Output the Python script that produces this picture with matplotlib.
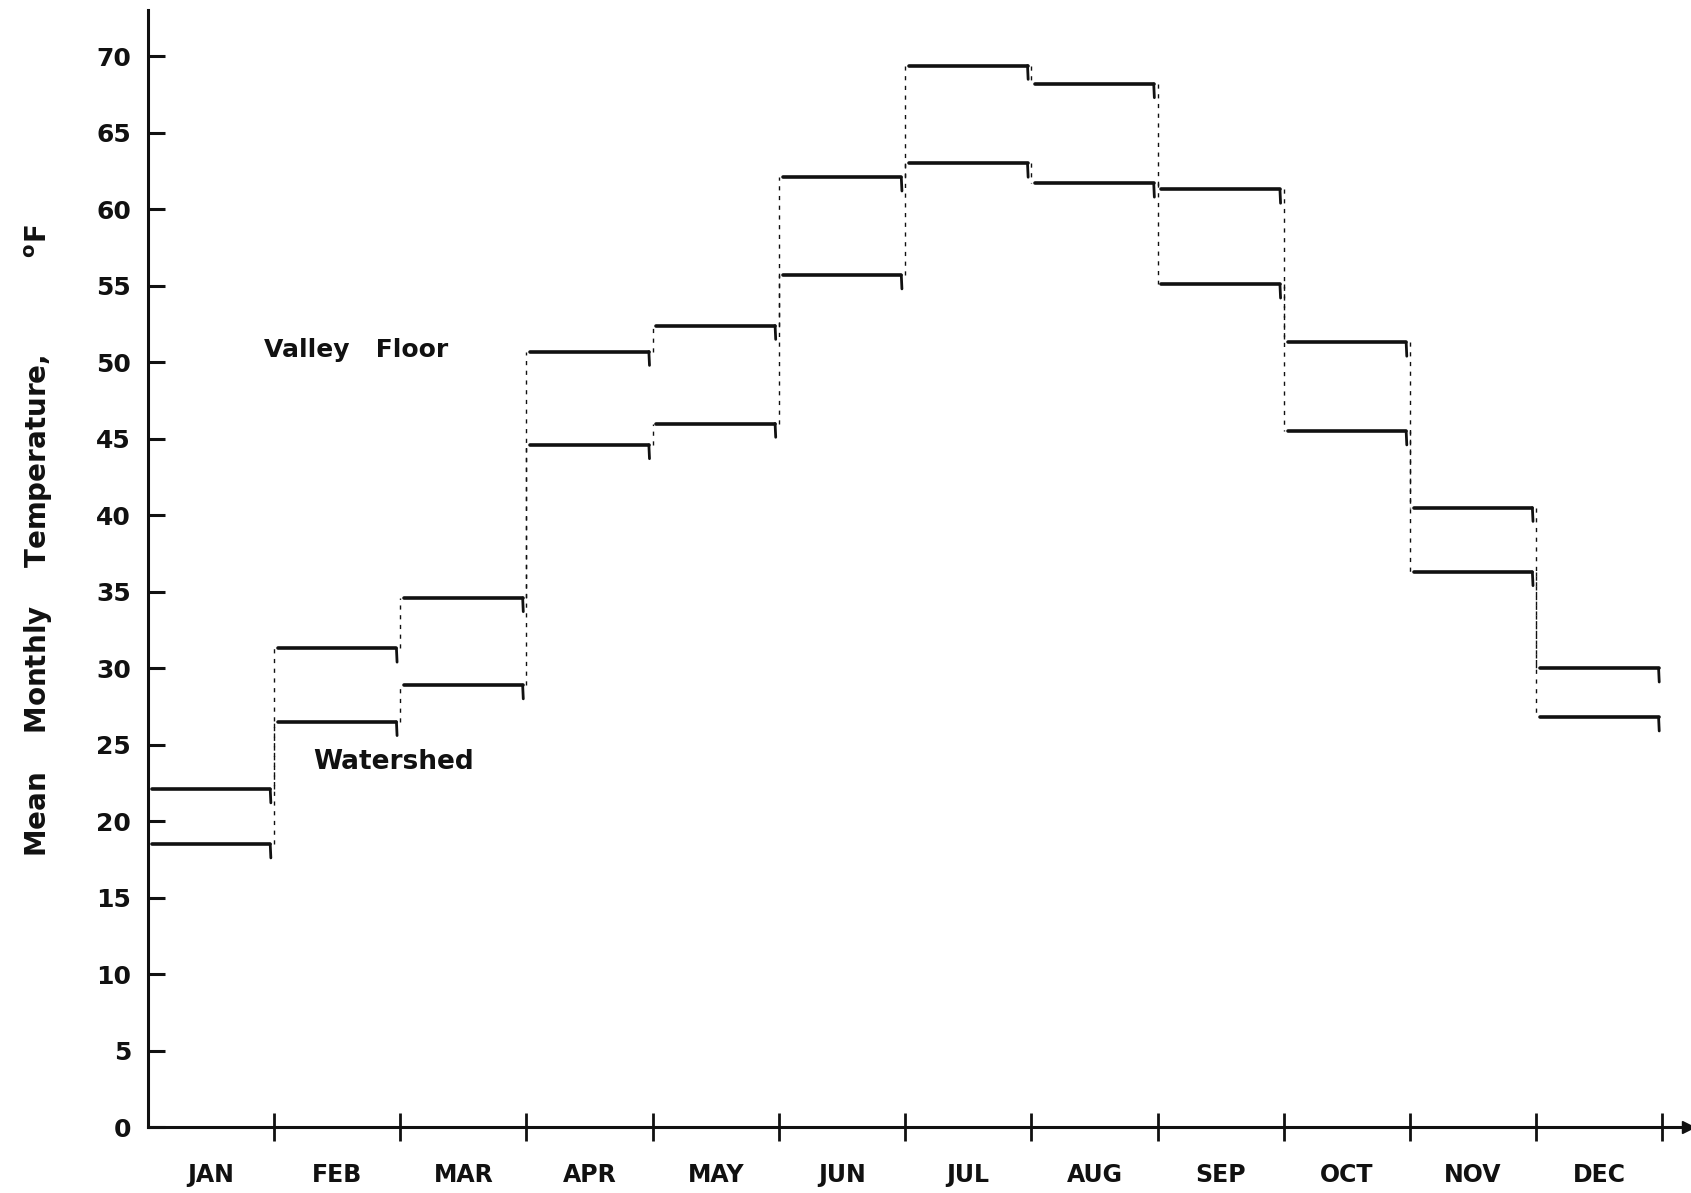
import numpy as np
import matplotlib
matplotlib.use("Agg")
import matplotlib.pyplot as plt

# ── Data ─────────────────────────────────────────────────────────────────────
MONTHS = ["JAN", "FEB", "MAR", "APR", "MAY", "JUN",
          "JUL", "AUG", "SEP", "OCT", "NOV", "DEC"]

# Mean monthly temperature, deg F
VALLEY_FLOOR = [22.1, 31.3, 34.6, 50.7, 52.4, 62.1, 69.4, 68.2, 61.3, 51.3, 40.5, 30.0]
WATERSHED    = [18.5, 26.5, 28.9, 44.6, 46.0, 55.7, 63.0, 61.7, 55.1, 45.5, 36.3, 26.8]

Y_TICKS = list(range(0, 71, 5))

INK = "#111111"


def draw_steps(ax, values):
    """Hand-drawn style step line: one bar per month, faint risers between."""
    n = len(values)
    starts = np.arange(n)
    ax.hlines(values, starts + 0.03, starts + 0.97, color=INK, lw=2.6,
              capstyle="round", zorder=3)
    # small hook at the end of each month
    for i, v in enumerate(values):
        ax.plot([i + 0.97, i + 0.975], [v, v - 0.9], color=INK, lw=2.0,
                solid_capstyle="round", zorder=3)
    # faint dashed risers between months
    for i in range(1, n):
        ax.plot([i, i], [values[i - 1], values[i]], color=INK, lw=1.0,
                ls=(0, (3, 4)), zorder=2)


def main():
    plt.rcParams["font.family"] = ["DejaVu Sans"]
    plt.rcParams["font.weight"] = "bold"

    fig = plt.figure(figsize=(16.91, 11.93), dpi=100)
    ax = fig.add_axes([0.0874, 0.0552, 0.9106, 0.936])

    draw_steps(ax, VALLEY_FLOOR)
    draw_steps(ax, WATERSHED)

    ax.text(0.92, 50.8, "Valley   Floor", fontsize=18, fontweight="bold",
            ha="left", va="center", color=INK)
    ax.text(1.31, 23.85, "Watershed", fontsize=19, fontweight="bold",
            ha="left", va="center", color=INK)

    ax.set_xlim(0, 12.2)
    ax.set_ylim(0, 73)

    for side in ("top", "right"):
        ax.spines[side].set_visible(False)
    for side in ("left", "bottom"):
        ax.spines[side].set_linewidth(2.2)
        ax.spines[side].set_color(INK)

    # arrow head on the month axis
    ax.plot(1, 0, marker=">", ms=9, color=INK, transform=ax.transAxes,
            clip_on=False)

    ax.set_yticks(Y_TICKS)
    ax.set_yticklabels([str(t) for t in Y_TICKS], fontsize=18,
                       fontweight="bold")
    ax.tick_params(axis="y", direction="in", length=12, width=2.2,
                   pad=12, colors=INK)

    ax.set_xticks(np.arange(1, len(MONTHS) + 1))
    ax.set_xticklabels([])
    ax.tick_params(axis="x", which="major", direction="inout", length=20,
                   width=2.0, colors=INK)
    ax.set_xticks(np.arange(len(MONTHS)) + 0.5, minor=True)
    ax.set_xticklabels(MONTHS, minor=True, fontsize=17, fontweight="bold")
    ax.tick_params(axis="x", which="minor", length=0, pad=26, colors=INK)

    ax.set_ylabel("Mean    Monthly    Temperature,          $^{\\mathbf{o}}$F",
                  fontsize=20, fontweight="bold", color=INK, labelpad=0)
    ax.yaxis.set_label_coords(-0.06, 0.525)

    fig.savefig("out.png", dpi=100)
    plt.close(fig)


if __name__ == "__main__":
    main()
